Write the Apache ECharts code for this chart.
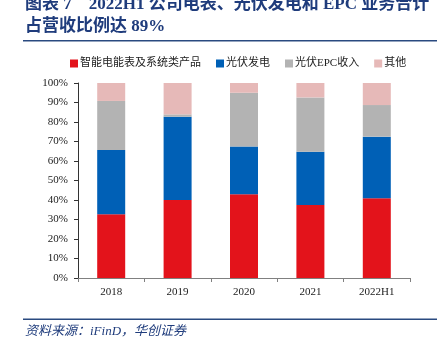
<!DOCTYPE html>
<html><head><meta charset="utf-8">
<script src="https://cdn.jsdelivr.net/npm/echarts@6/dist/echarts.min.js"></script>
<style>html,body{margin:0;padding:0;background:#fff}#c{width:445px;height:341px}</style>
</head><body><div id="c"></div>
<script>
var categories = ['2018','2019','2020','2021','2022H1'];
var meterProducts = [32.7, 40.0, 42.9, 37.4, 40.9];
var pvPower = [32.9, 42.7, 24.5, 27.4, 31.6];
var pvEpc = [25.2, 1.2, 27.6, 27.8, 16.2];
var others = [9.2, 16.1, 5.0, 7.4, 11.3];
var yTicks = ['0%','10%','20%','30%','40%','50%','60%','70%','80%','90%','100%'];
var seriesNames = ['智能电能表及系统类产品','光伏发电','光伏EPC收入','其他'];
var colors = ['#E3131B','#0060B6','#B3B3B3','#E6B9B8'];
var titleLine1 = '图表 7    2022H1 公司电表、光伏发电和 EPC 业务合计';
var titleLine2 = '占营收比例达 89%';
var sourceText = '资料来源：iFinD，华创证券';

var serif = '"Liberation Serif","Times New Roman","Noto Sans CJK SC",serif';
var navy = '#1F3C7C';
var chart = echarts.init(document.getElementById('c'));
var dataSets = [meterProducts, pvPower, pvEpc, others];
chart.setOption({
  animation: false,
  color: colors,
  textStyle: {fontFamily: serif},
  grid: {left: 78, right: 35, top: 83, bottom: 63},
  legend: {
    top: 58, left: 70, padding: 0, itemWidth: 8, itemHeight: 8, itemGap: 15,
    icon: 'rect',
    textStyle: {fontSize: 11, color: '#222', fontFamily: serif, padding: [0,0,0,-3]},
    data: seriesNames
  },
  xAxis: {
    type: 'category', data: categories,
    axisLine: {lineStyle: {color: '#808080', width: 1}},
    axisTick: {show: true, interval: 0, length: 4, alignWithLabel: false, lineStyle: {color: '#808080'}},
    axisLabel: {fontSize: 11, color: '#222', margin: 9, fontFamily: serif}
  },
  yAxis: {
    type: 'value', min: 0, max: 100, interval: 10,
    axisLine: {show: true, lineStyle: {color: '#333', width: 1}},
    axisTick: {show: true, length: 4, lineStyle: {color: '#333'}},
    splitLine: {show: false},
    axisLabel: {fontSize: 11, color: '#222', margin: 10, fontFamily: serif,
      formatter: function (v) { return yTicks[Math.round(v / 10)]; }}
  },
  series: seriesNames.map(function (n, i) {
    return {name: n, type: 'bar', stack: 'total', barWidth: 28, data: dataSets[i],
      itemStyle: {color: colors[i]}};
  }),
  graphic: [
    {type: 'text', left: 25, top: -4, style: {text: titleLine1, fontSize: 17, fontWeight: 'bold', fill: navy, fontFamily: serif}},
    {type: 'text', left: 25, top: 18, style: {text: titleLine2, fontSize: 17, fontWeight: 'bold', fill: navy, fontFamily: serif}},
    {type: 'rect', shape: {x: 23, y: 40, width: 414, height: 1.5}, style: {fill: '#2A4A80'}},
    {type: 'rect', shape: {x: 23, y: 318.5, width: 414, height: 1.5}, style: {fill: '#2A4A80'}},
    {type: 'text', left: 25, top: 325, style: {text: sourceText, fontSize: 13, fontStyle: 'italic', fill: navy, fontFamily: serif}}
  ]
});
</script></body></html>
